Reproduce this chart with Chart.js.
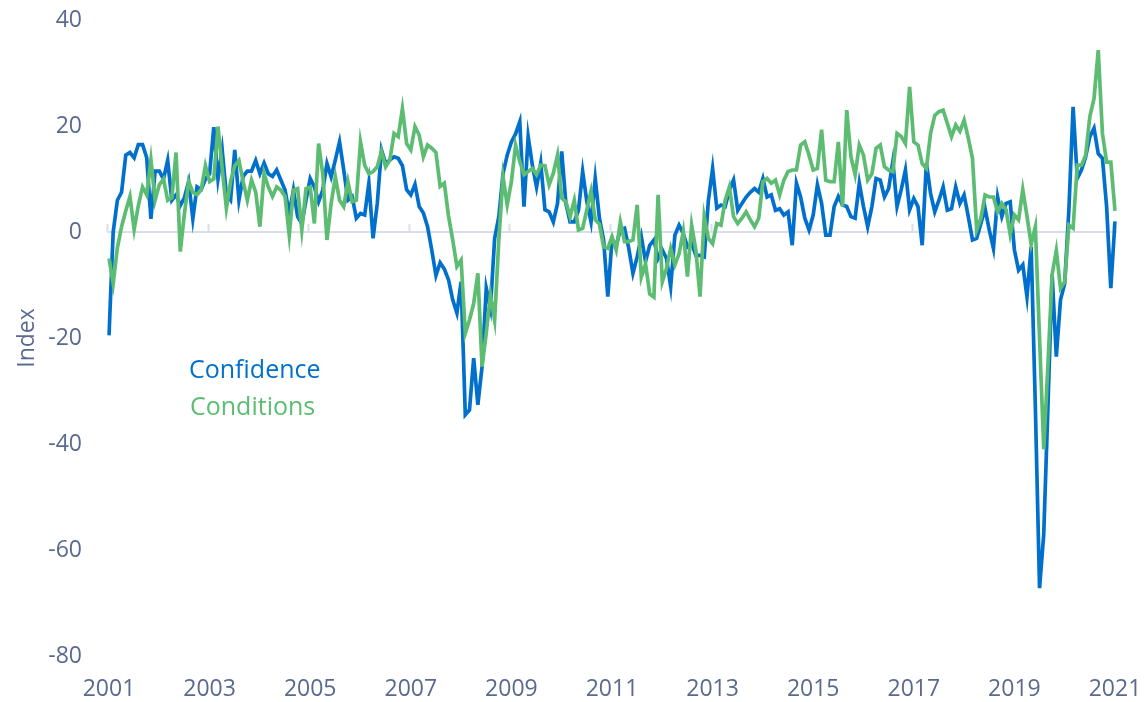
<!DOCTYPE html>
<html>
<head>
<meta charset="utf-8">
<script src="https://cdn.jsdelivr.net/npm/chart.js@4.4.1/dist/chart.umd.min.js"></script>
<style>
  html, body { margin: 0; padding: 0; background: #fff; }
  #wrap { position: relative; width: 1145px; height: 702px; }
  .key { position: absolute; font-family: "Open Sans", sans-serif; font-size: 25px; line-height: 25px; white-space: nowrap; }
</style>
</head>
<body>
<div id="wrap">
  <canvas id="chart" width="1145" height="702"></canvas>
  <div class="key" id="keyConfidence" style="left:189px; top:356px; color:#0070cc;">Confidence</div>
  <div class="key" id="keyConditions" style="left:190px; top:393px; color:#5cbd72;">Conditions</div>
</div>
<script>
// monthly series, Jan 2001 .. Jan 2021
const startYear = 2001;
const tickYears = ['2001', '2003', '2005', '2007', '2009', '2011', '2013', '2015', '2017', '2019', '2021'];
const yTicks = [-80, -60, -40, -20, 0, 20, 40];

const confidence = [
    -19.5, 0, 6, 7.5, 14.5, 15, 14, 16.5, 16.5, 14, 2.5, 11.5,
    11.5, 10, 13.5, 6, 7, 5, 6.5, 9.5, 2.5, 8.5, 8, 10,
    11, 19.8, 10, 15.5, 7, 6, 15.5, 6, 10.5, 11.5, 11.5, 13.5,
    11, 13, 11, 10.5, 11.7, 9.8, 7.9, 3.5, 7.9, 2.9, 1.6, 6,
    10.1, 8.5, 5.7, 7.9, 12.9, 10.4, 13.6, 17, 11.7, 6, 6.7, 2.6,
    3.5, 3.2, 9.2, -1.2, 5.4, 15.5, 12.9, 13.6, 14.2, 13.9, 12.5, 8,
    7, 9, 4.8, 3.6, 1, -3.4, -8.2, -5.8, -7, -9, -12.8, -15.3,
    -9.4, -34.5, -33.6, -23.8, -32.6, -25.4, -10.6, -14.4, -1.2, 2.9, 11, 14.5,
    17, 18.5, 20.8, 4.8, 18, 12.6, 8.5, 13, 4.2, 3.8, 1.9, 5.4,
    15.2, 5.4, 1.9, 1.9, 4.1, 11.4, 5.7, 1.9, 10.1, 2.6, -1.5, -12.2,
    -1.5, -2.5, 0.4, 0.7, -3.1, -7.8, -4.7, -0.9, -5.6, -2.5, -1.5, -5,
    -3.4, -5, -10.3, -0.6, 1.3, -0.3, -2.8, -2.2, -4.4, -4.4, -4.7, 6,
    12, 4.5, 5.1, 4.8, 7.9, 9.8, 4.1, 5.4, 6.6, 7.5, 8.2, 7.5,
    10.1, 6.6, 7, 4.1, 4.4, 3.2, 3.8, -2.5, 9.2, 6.6, 2.6, 0.4,
    3.2, 8.9, 5.4, -0.6, -0.6, 4.8, 6.7, 5.1, 4.8, 2.9, 2.6, 9.2,
    4.8, 1, 4.8, 10.1, 9.8, 6.6, 8.2, 13.3, 4.8, 8, 11.7, 4.2,
    6.3, 4.8, -2.5, 13, 7.3, 3.8, 6, 8.5, 4.1, 4.4, 8.5, 5.4,
    7, 2.9, -1.5, -1.2, 1.6, 4.4, 0.4, -3.1, 6.6, 2.9, 5.4, 5.7,
    -3.4, -7.2, -6.2, -12.2, -2.8, -33, -67.2, -57, -33, -8, -23.5, -12.8,
    -9.7, 4.2, 23.6, 10.1, 11.7, 14.2, 18, 19.6, 14.8, 13.9, 4.8, -10.6,
    2
];

const conditions = [
    -5, -9.7, -3, 1, 4, 6.7, 0.5, 5, 8.5, 7, 13.6, 6,
    8.9, 10, 6, 6.5, 15, -3.7, 3.5, 9.5, 7.5, 7, 8, 12.5,
    9.5, 10, 19.9, 12, 4.5, 9.5, 12.5, 13.5, 9.5, 6, 9.8, 7.5,
    1, 11, 8.5, 6.7, 8.5, 7.9, 6.7, -0.6, 7.9, 8.2, 0.4, 8.2,
    8.5, 1.6, 16.7, 11, -1.5, 5.4, 10.4, 6, 4.8, 9.5, 5.7, 6,
    17, 12.6, 11, 11.4, 12.3, 15.2, 12.3, 13.6, 18.6, 18, 23.3, 16.7,
    15.5, 19.9, 18.3, 14.2, 16.4, 15.8, 15, 8.6, 9.2, 3, -1.5, -6.5,
    -5.3, -19.1, -16.6, -13.5, -7.8, -25.4, -19.1, -11.9, -16.6, -1.5, 10.4, 5.1,
    9.5, 16.4, 13.3, 10.8, 11.4, 12, 10.8, 12.6, 12.5, 8.9, 11.1, 14.5,
    6.4, 5.7, 2.9, 6, 0.4, 0.7, 4.2, 7.7, 2.3, 1.5, -2.8, -3.1,
    -0.9, -3.4, 1.9, -1.8, -1.8, -1.5, 5.1, -8.5, -6, -11.7, -12.3, 7,
    -9.4, -6.9, -3.1, -6.2, -4.1, 0.1, -8.4, 1.3, -3.4, -12.2, 2.9, -1.2,
    -2.2, 1.6, 1.3, 6, 8.5, 2.9, 1.6, 2.6, 3.8, 2.3, 1, 2.6,
    9.5, 10.1, 9.2, 9.8, 7, 9.8, 11.4, 11.7, 11.7, 16.4, 17, 14.5,
    11.7, 12, 19.3, 9.8, 9.5, 9.5, 17, 4.8, 23, 14.2, 10.8, 16.4,
    14.5, 9.8, 11, 15.8, 16.4, 12.3, 11.7, 11.4, 18.6, 18, 16.7, 27.4,
    17, 16.4, 12.9, 12, 18.6, 22, 22.7, 23, 20.5, 18, 20.2, 19,
    21.1, 17.7, 13.9, 0.4, 2.6, 7, 6.6, 6.6, 3.8, 5.4, 4.2, -0.5,
    3.2, 2.3, 8, 3, -2.3, 1, -20, -41, -25, -8, -3.5, -10.6,
    -9.4, 1.3, 0.7, 12.6, 12.6, 14.5, 21.8, 25.2, 34.3, 18.6, 13.2, 13.2,
    4
];

const axisColor = '#5a6a8e';
const blue = '#0070cc';
const green = '#5cbd72';

// one label per month
const labels = confidence.map((v, i) => (startYear + Math.floor(i / 12)) + '-' + String(i % 12 + 1).padStart(2, '0'));

// zero line with small marks every two years
const zeroAxis = {
    id: 'zeroAxis',
    beforeDatasetsDraw(chart) {
        const { ctx, chartArea, scales } = chart;
        const y0 = scales.y.getPixelForValue(0);
        ctx.save();
        ctx.strokeStyle = '#d9deea';
        ctx.lineWidth = 2;
        ctx.beginPath();
        ctx.moveTo(chartArea.left - 2, y0);
        ctx.lineTo(chartArea.right + 2, y0);
        for (let i = 0; i < labels.length; i += 24) {
            const px = Math.round(scales.x.getPixelForValue(i)) - 1.5;
            ctx.moveTo(px, y0);
            ctx.lineTo(px, y0 - 8);
        }
        ctx.stroke();
        ctx.restore();
    }
};

const tickFont = { family: '"Open Sans", sans-serif', size: 23 };

new Chart(document.getElementById('chart'), {
    type: 'line',
    data: {
        labels: labels,
        datasets: [
            { label: 'Conditions', data: conditions, borderColor: green, borderWidth: 3.7, pointRadius: 0, tension: 0 },
            { label: 'Confidence', data: confidence, borderColor: blue, borderWidth: 3.7, pointRadius: 0, tension: 0 }
        ]
    },
    options: {
        responsive: false,
        animation: false,
        layout: { padding: { top: 20, right: 30, left: 0, bottom: 0 } },
        plugins: {
            legend: { display: false },
            tooltip: { enabled: false }
        },
        scales: {
            x: {
                type: 'category',
                offset: false,
                // tick length used only as label gap (grid itself hidden)
                grid: { display: false, drawTicks: true, tickLength: 20 },
                border: { display: false },
                ticks: {
                    autoSkip: false,
                    maxRotation: 0,
                    minRotation: 0,
                    padding: 0,
                    color: axisColor,
                    font: tickFont,
                    callback: (val, i) => (i % 24 === 0 ? tickYears[i / 24] : '')
                },
                afterFit: (scale) => { scale.height = 46; }
            },
            y: {
                min: -80,
                max: 40,
                afterBuildTicks: (scale) => { scale.ticks = yTicks.map(v => ({ value: v })); },
                grid: { display: false, drawTicks: true, tickLength: 27 },
                border: { display: false },
                ticks: { padding: 0, color: axisColor, font: tickFont },
                title: {
                    display: true,
                    text: 'Index',
                    color: axisColor,
                    font: tickFont,
                    padding: { top: 14, bottom: 0 }
                },
                afterFit: (scale) => { scale.width = 109; }
            }
        }
    },
    plugins: [zeroAxis]
});
</script>
</body>
</html>
